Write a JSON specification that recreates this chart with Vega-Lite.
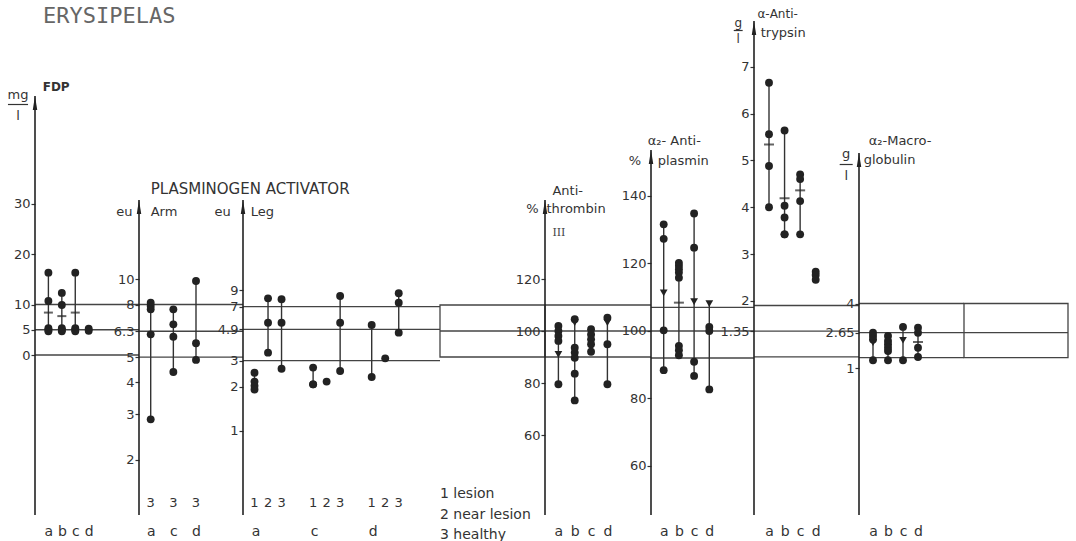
{
"$schema": "https://vega.github.io/schema/vega-lite/v6.json",
"background": "white",
"padding": {"left": 7, "top": 4, "right": 4, "bottom": 0},
"spacing": 0,
"bounds": "flush",
"datasets": {
"fdp": [
{"group":"a","value":16.3,"kind":"obs"},{"group":"a","value":10.7,"kind":"obs"},{"group":"a","value":8.4,"kind":"mean"},{"group":"a","value":5.3,"kind":"obs"},{"group":"a","value":5.0,"kind":"obs"},{"group":"a","value":4.7,"kind":"obs"},
{"group":"b","value":12.3,"kind":"obs"},{"group":"b","value":9.9,"kind":"obs"},{"group":"b","value":7.7,"kind":"mean"},{"group":"b","value":5.3,"kind":"obs"},{"group":"b","value":5.0,"kind":"obs"},{"group":"b","value":4.7,"kind":"obs"},
{"group":"c","value":16.3,"kind":"obs"},{"group":"c","value":8.4,"kind":"mean"},{"group":"c","value":5.3,"kind":"obs"},{"group":"c","value":5.0,"kind":"obs"},{"group":"c","value":4.7,"kind":"obs"},
{"group":"d","value":5.2,"kind":"obs"},{"group":"d","value":4.8,"kind":"obs"}
],
"arm": [
{"group":"a","site":"3","value":8.13},{"group":"a","site":"3","value":7.9},{"group":"a","site":"3","value":7.66},{"group":"a","site":"3","value":6.13},{"group":"a","site":"3","value":2.87},
{"group":"c","site":"3","value":7.66},{"group":"c","site":"3","value":6.7},{"group":"c","site":"3","value":6.0},{"group":"c","site":"3","value":4.38},
{"group":"d","site":"3","value":9.87},{"group":"d","site":"3","value":5.66},{"group":"d","site":"3","value":4.88}
],
"leg": [
{"group":"a","site":"1","value":2.48},{"group":"a","site":"1","value":2.16},{"group":"a","site":"1","value":2.02},{"group":"a","site":"1","value":1.91},
{"group":"a","site":"2","value":7.96},{"group":"a","site":"2","value":5.43},{"group":"a","site":"2","value":3.4},
{"group":"a","site":"3","value":7.84},{"group":"a","site":"3","value":5.43},{"group":"a","site":"3","value":2.64},
{"group":"c","site":"1","value":2.69},{"group":"c","site":"1","value":2.07},{"group":"c","site":"1","value":2.07},
{"group":"c","site":"2","value":2.16},
{"group":"c","site":"3","value":8.26},{"group":"c","site":"3","value":5.43},{"group":"c","site":"3","value":2.55},
{"group":"d","site":"1","value":5.24},{"group":"d","site":"1","value":2.32},
{"group":"d","site":"2","value":3.11},
{"group":"d","site":"3","value":8.61},{"group":"d","site":"3","value":7.43},{"group":"d","site":"3","value":4.65}
],
"at": [
{"group":"a","value":101.9,"kind":"obs"},{"group":"a","value":100,"kind":"obs"},{"group":"a","value":98.1,"kind":"obs"},{"group":"a","value":96.2,"kind":"obs"},{"group":"a","value":91.0,"kind":"marker"},{"group":"a","value":79.5,"kind":"obs"},
{"group":"b","value":104.5,"kind":"obs"},{"group":"b","value":103.2,"kind":"marker"},{"group":"b","value":93.6,"kind":"obs"},{"group":"b","value":91.7,"kind":"obs"},{"group":"b","value":89.7,"kind":"obs"},{"group":"b","value":83.6,"kind":"obs"},{"group":"b","value":73.3,"kind":"obs"},
{"group":"c","value":100.7,"kind":"obs"},{"group":"c","value":98.7,"kind":"obs"},{"group":"c","value":96.8,"kind":"obs"},{"group":"c","value":94.9,"kind":"obs"},{"group":"c","value":92.0,"kind":"obs"},
{"group":"d","value":105.1,"kind":"obs"},{"group":"d","value":103.2,"kind":"marker"},{"group":"d","value":94.9,"kind":"obs"},{"group":"d","value":79.5,"kind":"obs"}
],
"ap": [
{"group":"a","value":131.6,"kind":"obs"},{"group":"a","value":127.3,"kind":"obs"},{"group":"a","value":111.3,"kind":"marker"},{"group":"a","value":100.2,"kind":"obs"},{"group":"a","value":88.4,"kind":"obs"},
{"group":"b","value":120.2,"kind":"obs"},{"group":"b","value":119.3,"kind":"obs"},{"group":"b","value":118.3,"kind":"obs"},{"group":"b","value":117.3,"kind":"obs"},{"group":"b","value":115.8,"kind":"obs"},{"group":"b","value":108.4,"kind":"mean"},{"group":"b","value":95.6,"kind":"obs"},{"group":"b","value":94.3,"kind":"obs"},{"group":"b","value":92.8,"kind":"obs"},
{"group":"c","value":134.8,"kind":"obs"},{"group":"c","value":124.7,"kind":"obs"},{"group":"c","value":108.7,"kind":"marker"},{"group":"c","value":90.9,"kind":"obs"},{"group":"c","value":86.7,"kind":"obs"},
{"group":"d","value":108.1,"kind":"marker"},{"group":"d","value":101.2,"kind":"obs"},{"group":"d","value":100,"kind":"obs"},{"group":"d","value":82.7,"kind":"obs"}
],
"atr": [
{"group":"a","value":6.66,"kind":"obs"},{"group":"a","value":5.56,"kind":"obs"},{"group":"a","value":5.34,"kind":"mean"},{"group":"a","value":4.88,"kind":"obs"},{"group":"a","value":4.0,"kind":"obs"},
{"group":"b","value":5.64,"kind":"obs"},{"group":"b","value":4.19,"kind":"mean"},{"group":"b","value":4.03,"kind":"obs"},{"group":"b","value":3.78,"kind":"obs"},{"group":"b","value":3.42,"kind":"obs"},{"group":"b","value":3.42,"kind":"obs"},
{"group":"c","value":4.7,"kind":"obs"},{"group":"c","value":4.6,"kind":"obs"},{"group":"c","value":4.36,"kind":"mean"},{"group":"c","value":4.13,"kind":"obs"},{"group":"c","value":3.42,"kind":"obs"},
{"group":"d","value":2.62,"kind":"obs"},{"group":"d","value":2.55,"kind":"obs"},{"group":"d","value":2.45,"kind":"obs"}
],
"am": [
{"group":"a","value":2.64,"kind":"obs"},{"group":"a","value":2.49,"kind":"obs"},{"group":"a","value":2.33,"kind":"obs"},{"group":"a","value":2.18,"kind":"marker"},{"group":"a","value":1.36,"kind":"obs"},
{"group":"b","value":2.49,"kind":"obs"},{"group":"b","value":2.26,"kind":"obs"},{"group":"b","value":2.1,"kind":"obs"},{"group":"b","value":1.94,"kind":"obs"},{"group":"b","value":1.79,"kind":"obs"},{"group":"b","value":1.36,"kind":"obs"},
{"group":"c","value":2.91,"kind":"obs"},{"group":"c","value":2.29,"kind":"marker"},{"group":"c","value":1.36,"kind":"obs"},
{"group":"d","value":2.87,"kind":"obs"},{"group":"d","value":2.64,"kind":"obs"},{"group":"d","value":2.21,"kind":"mean"},{"group":"d","value":1.94,"kind":"obs"},{"group":"d","value":1.51,"kind":"obs"}
]
},
"hconcat": [
{
 "width": 104, "height": 496,
 "resolve": {"scale": {"x": "independent"}, "axis": {"x": "independent"}},
 "layer": [
  {"data": {"values": [{"limit": 10}, {"limit": 5}, {"limit": 0}]}, "mark": {"type": "rule", "color": "#444", "strokeWidth": 1.3},
   "encoding": {"x": {"datum": 0, "type": "quantitative", "scale": {"domain": [0, 1]}, "axis": null}, "x2": {"datum": 1},
    "y": {"field": "limit", "type": "quantitative", "scale": {"domain": [-31.683, 66.535], "nice": false, "zero": false}, "axis": {"title": null}}}},
  {"data": {"values": [{}]}, "mark": {"type": "rule", "color": "#222", "strokeWidth": 1.6},
   "encoding": {"x": {"datum": 0, "type": "quantitative", "scale": {"domain": [0, 1]}, "axis": null}, "y": {"datum": -31.683, "type": "quantitative", "axis": {"title": null}}, "y2": {"datum": 51.287}}},
  {"data": {"values": [{}]}, "mark": {"type": "point", "shape": "M0,-1L0.32,1L-0.32,1Z", "filled": true, "color": "#222", "size": 196, "opacity": 1},
   "encoding": {"x": {"datum": 0, "type": "quantitative", "scale": {"domain": [0, 1]}, "axis": null}, "y": {"datum": 49.901, "type": "quantitative", "axis": {"title": null}}}},
  {"data": {"values": [{}]}, "mark": {"type": "text", "text": "ERYSIPELAS", "align": "left", "baseline": "middle", "dx": 8, "font": "DejaVu Sans Mono", "fontSize": 22, "color": "#666"},
   "encoding": {"x": {"datum": 0, "type": "quantitative", "scale": {"domain": [0, 1]}, "axis": null}, "y": {"datum": 67.13, "type": "quantitative", "axis": {"title": null}}}},
  {"data": {"values": [{}]}, "mark": {"type": "text", "text": "mg", "align": "center", "baseline": "middle", "dx": -17, "fontSize": 13},
   "encoding": {"x": {"datum": 0, "type": "quantitative", "scale": {"domain": [0, 1]}, "axis": null}, "y": {"datum": 51.485, "type": "quantitative", "axis": {"title": null}}}},
  {"data": {"values": [{}]}, "mark": {"type": "rule", "color": "#333", "strokeWidth": 1.2},
   "encoding": {"x": {"datum": -0.26, "type": "quantitative", "scale": {"domain": [0, 1]}, "axis": null}, "x2": {"datum": -0.067}, "y": {"datum": 49.604, "type": "quantitative", "axis": {"title": null}}}},
  {"data": {"values": [{}]}, "mark": {"type": "text", "text": "l", "align": "center", "baseline": "middle", "dx": -17, "fontSize": 13},
   "encoding": {"x": {"datum": 0, "type": "quantitative", "scale": {"domain": [0, 1]}, "axis": null}, "y": {"datum": 47.327, "type": "quantitative", "axis": {"title": null}}}},
  {"data": {"values": [{}]}, "mark": {"type": "text", "text": "FDP", "align": "left", "baseline": "middle", "dx": 7.7, "fontSize": 12, "fontWeight": "bold"},
   "encoding": {"x": {"datum": 0, "type": "quantitative", "scale": {"domain": [0, 1]}, "axis": null}, "y": {"datum": 53.069, "type": "quantitative", "axis": {"title": null}}}},
  {"data": {"name": "fdp"}, "mark": {"type": "rule", "color": "#333", "strokeWidth": 1.4},
   "encoding": {"x": {"field": "group", "type": "nominal", "scale": {"type": "point", "domain": ["a", "b", "c", "d"], "range": [13.4, 53.7], "padding": 0}, "axis": null},
    "y": {"aggregate": "min", "field": "value", "type": "quantitative", "axis": {"title": null}}, "y2": {"aggregate": "max", "field": "value"}}},
  {"data": {"name": "fdp"}, "transform": [{"filter": "datum.kind == 'obs'"}], "mark": {"type": "circle", "size": 62, "color": "#222", "opacity": 1},
   "encoding": {"x": {"field": "group", "type": "nominal", "scale": {"type": "point", "domain": ["a", "b", "c", "d"], "range": [13.4, 53.7], "padding": 0}, "axis": {"orient": "bottom", "title": null}},
    "y": {"field": "value", "type": "quantitative", "scale": {"domain": [-31.683, 66.535], "nice": false, "zero": false}, "axis": {"orient": "left", "values": [0, 5, 10, 20, 30], "title": null, "format": ".4~g"}}}},
  {"data": {"name": "fdp"}, "transform": [{"filter": "datum.kind == 'mean'"}], "mark": {"type": "tick", "color": "#222", "thickness": 2, "size": 9},
   "encoding": {"x": {"field": "group", "type": "nominal", "scale": {"type": "point", "domain": ["a", "b", "c", "d"], "range": [13.4, 53.7], "padding": 0}, "axis": null},
    "y": {"field": "value", "type": "quantitative", "axis": {"title": null}}}}
 ]
},
{
 "width": 104, "height": 496,
 "resolve": {"scale": {"x": "independent"}, "axis": {"x": "independent"}},
 "layer": [
  {"data": {"values": [{"limit": 8}, {"limit": 6.3}, {"limit": 5}]}, "mark": {"type": "rule", "color": "#444", "strokeWidth": 1.3},
   "encoding": {"x": {"datum": 0, "type": "quantitative", "scale": {"domain": [0, 1]}, "axis": null}, "x2": {"datum": 1},
    "y": {"field": "limit", "type": "quantitative", "scale": {"type": "log", "domain": [1.2224, 102.25], "nice": false}, "axis": {"title": null}}}},
  {"data": {"values": [{}]}, "mark": {"type": "rule", "color": "#222", "strokeWidth": 1.6},
   "encoding": {"x": {"datum": 0, "type": "quantitative", "scale": {"domain": [0, 1]}, "axis": null}, "y": {"datum": 1.2224, "type": "quantitative", "axis": {"title": null}}, "y2": {"datum": 20.33}}},
  {"data": {"values": [{}]}, "mark": {"type": "point", "shape": "M0,-1L0.32,1L-0.32,1Z", "filled": true, "color": "#222", "size": 196, "opacity": 1},
   "encoding": {"x": {"datum": 0, "type": "quantitative", "scale": {"domain": [0, 1]}, "axis": null}, "y": {"datum": 19.10, "type": "quantitative", "axis": {"title": null}}}},
  {"data": {"values": [{}]}, "mark": {"type": "text", "text": "eu", "align": "right", "baseline": "middle", "dx": -6.6, "fontSize": 13},
   "encoding": {"x": {"datum": 0, "type": "quantitative", "scale": {"domain": [0, 1]}, "axis": null}, "y": {"datum": 18.27, "type": "quantitative", "axis": {"title": null}}}},
  {"data": {"values": [{}]}, "mark": {"type": "text", "text": "Arm", "align": "left", "baseline": "middle", "dx": 11.7, "fontSize": 13},
   "encoding": {"x": {"datum": 0, "type": "quantitative", "scale": {"domain": [0, 1]}, "axis": null}, "y": {"datum": 18.27, "type": "quantitative", "axis": {"title": null}}}},
  {"data": {"values": [{}]}, "mark": {"type": "text", "text": "PLASMINOGEN ACTIVATOR", "align": "left", "baseline": "middle", "dx": 11.7, "fontSize": 15},
   "encoding": {"x": {"datum": 0, "type": "quantitative", "scale": {"domain": [0, 1]}, "axis": null}, "y": {"datum": 22.43, "type": "quantitative", "axis": {"title": null}}}},
  {"data": {"name": "arm"}, "mark": {"type": "rule", "color": "#333", "strokeWidth": 1.4},
   "encoding": {"x": {"field": "group", "type": "nominal", "scale": {"type": "point", "domain": ["a", "c", "d"], "range": [11.7, 57], "padding": 0}, "axis": null},
    "y": {"aggregate": "min", "field": "value", "type": "quantitative", "axis": {"title": null}}, "y2": {"aggregate": "max", "field": "value"}}},
  {"data": {"name": "arm"}, "mark": {"type": "circle", "size": 62, "color": "#222", "opacity": 1},
   "encoding": {"x": {"field": "group", "type": "nominal", "scale": {"type": "point", "domain": ["a", "c", "d"], "range": [11.7, 57], "padding": 0}, "axis": {"orient": "bottom", "title": null}},
    "y": {"field": "value", "type": "quantitative", "scale": {"type": "log", "domain": [1.2224, 102.25], "nice": false}, "axis": {"orient": "left", "values": [2, 3, 4, 5, 6.3, 8, 10], "title": null, "format": ".4~g"}}}},
  {"data": {"name": "arm"}, "transform": [{"aggregate": [{"op": "count", "as": "n"}], "groupby": ["group", "site"]}],
   "mark": {"type": "text", "baseline": "middle", "fontSize": 13},
   "encoding": {"x": {"field": "group", "type": "nominal", "scale": {"type": "point", "domain": ["a", "c", "d"], "range": [11.7, 57], "padding": 0}, "axis": null},
    "y": {"datum": 1.3605, "type": "quantitative", "axis": {"title": null}}, "text": {"field": "site", "type": "nominal"}}}
 ]
},
{
 "width": 197, "height": 496,
 "resolve": {"scale": {"x": "independent"}, "axis": {"x": "independent"}},
 "layer": [
  {"data": {"values": [{"limit": 7}, {"limit": 4.9}, {"limit": 3}]}, "mark": {"type": "rule", "color": "#444", "strokeWidth": 1.3},
   "encoding": {"x": {"datum": 0, "type": "quantitative", "scale": {"domain": [0, 1]}, "axis": null}, "x2": {"datum": 1},
    "y": {"field": "limit", "type": "quantitative", "scale": {"type": "log", "domain": [0.26729, 632.4], "nice": false}, "axis": {"title": null}}}},
  {"data": {"values": [{}]}, "mark": {"type": "rule", "color": "#222", "strokeWidth": 1.6},
   "encoding": {"x": {"datum": 0, "type": "quantitative", "scale": {"domain": [0, 1]}, "axis": null}, "y": {"datum": 0.26729, "type": "quantitative", "axis": {"title": null}}, "y2": {"datum": 37.13}}},
  {"data": {"values": [{}]}, "mark": {"type": "point", "shape": "M0,-1L0.32,1L-0.32,1Z", "filled": true, "color": "#222", "size": 196, "opacity": 1},
   "encoding": {"x": {"datum": 0, "type": "quantitative", "scale": {"domain": [0, 1]}, "axis": null}, "y": {"datum": 33.28, "type": "quantitative", "axis": {"title": null}}}},
  {"data": {"values": [{}]}, "mark": {"type": "text", "text": "eu", "align": "right", "baseline": "middle", "dx": -12.3, "fontSize": 13},
   "encoding": {"x": {"datum": 0, "type": "quantitative", "scale": {"domain": [0, 1]}, "axis": null}, "y": {"datum": 30.77, "type": "quantitative", "axis": {"title": null}}}},
  {"data": {"values": [{}]}, "mark": {"type": "text", "text": "Leg", "align": "left", "baseline": "middle", "dx": 7.7, "fontSize": 13},
   "encoding": {"x": {"datum": 0, "type": "quantitative", "scale": {"domain": [0, 1]}, "axis": null}, "y": {"datum": 30.77, "type": "quantitative", "axis": {"title": null}}}},
  {"data": {"name": "leg"}, "mark": {"type": "rule", "color": "#333", "strokeWidth": 1.4},
   "encoding": {"x": {"field": "group", "type": "nominal", "scale": {"type": "band", "domain": ["a", "c", "d"], "paddingInner": 0.308, "paddingOuter": 0.335, "align": 0.121}, "axis": null},
    "xOffset": {"field": "site", "type": "nominal", "scale": {"type": "point", "domain": ["1", "2", "3"], "padding": 0.5}},
    "y": {"aggregate": "min", "field": "value", "type": "quantitative", "axis": {"title": null}}, "y2": {"aggregate": "max", "field": "value"}}},
  {"data": {"name": "leg"}, "mark": {"type": "circle", "size": 62, "color": "#222", "opacity": 1},
   "encoding": {"x": {"field": "group", "type": "nominal", "scale": {"type": "band", "domain": ["a", "c", "d"], "paddingInner": 0.308, "paddingOuter": 0.335, "align": 0.121}, "axis": {"orient": "bottom", "title": null, "labelOffset": -12}},
    "xOffset": {"field": "site", "type": "nominal", "scale": {"type": "point", "domain": ["1", "2", "3"], "padding": 0.5}},
    "y": {"field": "value", "type": "quantitative", "scale": {"type": "log", "domain": [0.26729, 632.4], "nice": false}, "axis": {"orient": "left", "values": [1, 2, 3, 4.9, 7, 9], "title": null, "format": ".4~g"}}}},
  {"data": {"name": "leg"}, "transform": [{"aggregate": [{"op": "count", "as": "n"}], "groupby": ["group", "site"]}],
   "mark": {"type": "text", "baseline": "middle", "fontSize": 13},
   "encoding": {"x": {"field": "group", "type": "nominal", "scale": {"type": "band", "domain": ["a", "c", "d"], "paddingInner": 0.308, "paddingOuter": 0.335, "align": 0.121}, "axis": null},
    "xOffset": {"field": "site", "type": "nominal", "scale": {"type": "point", "domain": ["1", "2", "3"], "padding": 0.5}},
    "y": {"datum": 0.32256, "type": "quantitative", "axis": {"title": null}}, "text": {"field": "site", "type": "nominal"}}}
 ]
},
{
 "width": 105, "height": 496,
 "layer": [
  {"data": {"values": [{}]}, "mark": {"type": "rect", "filled": false, "color": "#444", "strokeWidth": 1.3},
   "encoding": {"x": {"datum": 0, "type": "quantitative", "scale": {"domain": [0, 1]}, "axis": null}, "x2": {"datum": 1},
    "y": {"datum": 110, "type": "quantitative", "scale": {"domain": [29.231, 220], "nice": false, "zero": false}, "axis": null}, "y2": {"datum": 90}}},
  {"data": {"values": [{}]}, "mark": {"type": "rule", "color": "#444", "strokeWidth": 1.3},
   "encoding": {"x": {"datum": 0, "type": "quantitative", "axis": null}, "x2": {"datum": 1}, "y": {"datum": 100, "type": "quantitative", "axis": null}}},
  {"data": {"values": [{}]}, "mark": {"type": "text", "text": ["1 lesion", "2 near lesion", "3 healthy"], "align": "left", "baseline": "top", "lineHeight": 20.5, "fontSize": 14},
   "encoding": {"x": {"datum": 0, "type": "quantitative", "axis": null}, "y": {"datum": 40.0, "type": "quantitative", "axis": null}}}
 ]
},
{
 "width": 106, "height": 496,
 "resolve": {"scale": {"x": "independent"}, "axis": {"x": "independent"}},
 "layer": [
  {"data": {"values": [{"limit": 110}, {"limit": 100}, {"limit": 90}]}, "mark": {"type": "rule", "color": "#444", "strokeWidth": 1.3},
   "encoding": {"x": {"datum": 0, "type": "quantitative", "scale": {"domain": [0, 1]}, "axis": null}, "x2": {"datum": 1},
    "y": {"field": "limit", "type": "quantitative", "scale": {"domain": [29.231, 220], "nice": false, "zero": false}, "axis": {"title": null}}}},
  {"data": {"values": [{}]}, "mark": {"type": "rule", "color": "#222", "strokeWidth": 1.6},
   "encoding": {"x": {"datum": 0, "type": "quantitative", "scale": {"domain": [0, 1]}, "axis": null}, "y": {"datum": 29.231, "type": "quantitative", "axis": {"title": null}}, "y2": {"datum": 150.38}}},
  {"data": {"values": [{}]}, "mark": {"type": "point", "shape": "M0,-1L0.32,1L-0.32,1Z", "filled": true, "color": "#222", "size": 196, "opacity": 1},
   "encoding": {"x": {"datum": 0, "type": "quantitative", "scale": {"domain": [0, 1]}, "axis": null}, "y": {"datum": 147.69, "type": "quantitative", "axis": {"title": null}}}},
  {"data": {"values": [{}]}, "mark": {"type": "text", "text": "%", "align": "right", "baseline": "middle", "dx": -6.3, "fontSize": 13},
   "encoding": {"x": {"datum": 0, "type": "quantitative", "scale": {"domain": [0, 1]}, "axis": null}, "y": {"datum": 146.81, "type": "quantitative", "axis": {"title": null}}}},
  {"data": {"values": [{}]}, "mark": {"type": "text", "text": "Anti-", "align": "left", "baseline": "middle", "dx": 7.4, "fontSize": 13},
   "encoding": {"x": {"datum": 0, "type": "quantitative", "scale": {"domain": [0, 1]}, "axis": null}, "y": {"datum": 153.85, "type": "quantitative", "axis": {"title": null}}}},
  {"data": {"values": [{}]}, "mark": {"type": "text", "text": "thrombin", "align": "left", "baseline": "middle", "dx": 1.5, "fontSize": 13},
   "encoding": {"x": {"datum": 0, "type": "quantitative", "scale": {"domain": [0, 1]}, "axis": null}, "y": {"datum": 147.04, "type": "quantitative", "axis": {"title": null}}}},
  {"data": {"values": [{}]}, "mark": {"type": "text", "text": "III", "align": "left", "baseline": "middle", "dx": 7.4, "font": "DejaVu Serif", "fontSize": 11, "color": "#444"},
   "encoding": {"x": {"datum": 0, "type": "quantitative", "scale": {"domain": [0, 1]}, "axis": null}, "y": {"datum": 137.81, "type": "quantitative", "axis": {"title": null}}}},
  {"data": {"name": "at"}, "mark": {"type": "rule", "color": "#333", "strokeWidth": 1.4},
   "encoding": {"x": {"field": "group", "type": "nominal", "scale": {"type": "point", "domain": ["a", "b", "c", "d"], "range": [13.4, 62.4], "padding": 0}, "axis": null},
    "y": {"aggregate": "min", "field": "value", "type": "quantitative", "axis": {"title": null}}, "y2": {"aggregate": "max", "field": "value"}}},
  {"data": {"name": "at"}, "transform": [{"filter": "datum.kind == 'obs'"}], "mark": {"type": "circle", "size": 62, "color": "#222", "opacity": 1},
   "encoding": {"x": {"field": "group", "type": "nominal", "scale": {"type": "point", "domain": ["a", "b", "c", "d"], "range": [13.4, 62.4], "padding": 0}, "axis": {"orient": "bottom", "title": null}},
    "y": {"field": "value", "type": "quantitative", "scale": {"domain": [29.231, 220], "nice": false, "zero": false}, "axis": {"orient": "left", "values": [60, 80, 100, 120], "title": null, "format": ".4~g"}}}},
  {"data": {"name": "at"}, "transform": [{"filter": "datum.kind == 'marker'"}], "mark": {"type": "point", "shape": "triangle-down", "filled": true, "size": 60, "color": "#222", "opacity": 1},
   "encoding": {"x": {"field": "group", "type": "nominal", "scale": {"type": "point", "domain": ["a", "b", "c", "d"], "range": [13.4, 62.4], "padding": 0}, "axis": null},
    "y": {"field": "value", "type": "quantitative", "axis": {"title": null}}}}
 ]
},
{
 "width": 103, "height": 496,
 "resolve": {"scale": {"x": "independent"}, "axis": {"x": "independent"}},
 "layer": [
  {"data": {"values": [{"limit": 107}, {"limit": 100}, {"limit": 92}]}, "mark": {"type": "rule", "color": "#444", "strokeWidth": 1.3},
   "encoding": {"x": {"datum": 0, "type": "quantitative", "scale": {"domain": [0, 1]}, "axis": null}, "x2": {"datum": 1},
    "y": {"field": "limit", "type": "quantitative", "scale": {"domain": [45.481, 192.444], "nice": false, "zero": false}, "axis": {"title": null}}}},
  {"data": {"values": [{}]}, "mark": {"type": "rule", "color": "#222", "strokeWidth": 1.6},
   "encoding": {"x": {"datum": 0, "type": "quantitative", "scale": {"domain": [0, 1]}, "axis": null}, "y": {"datum": 45.481, "type": "quantitative", "axis": {"title": null}}, "y2": {"datum": 153.63}}},
  {"data": {"values": [{}]}, "mark": {"type": "point", "shape": "M0,-1L0.32,1L-0.32,1Z", "filled": true, "color": "#222", "size": 196, "opacity": 1},
   "encoding": {"x": {"datum": 0, "type": "quantitative", "scale": {"domain": [0, 1]}, "axis": null}, "y": {"datum": 151.56, "type": "quantitative", "axis": {"title": null}}}},
  {"data": {"values": [{}]}, "mark": {"type": "text", "text": "α₂- Anti-", "align": "left", "baseline": "middle", "dx": -3.3, "fontSize": 13},
   "encoding": {"x": {"datum": 0, "type": "quantitative", "scale": {"domain": [0, 1]}, "axis": null}, "y": {"datum": 156.3, "type": "quantitative", "axis": {"title": null}}}},
  {"data": {"values": [{}]}, "mark": {"type": "text", "text": "%", "align": "right", "baseline": "middle", "dx": -10, "fontSize": 13},
   "encoding": {"x": {"datum": 0, "type": "quantitative", "scale": {"domain": [0, 1]}, "axis": null}, "y": {"datum": 150.37, "type": "quantitative", "axis": {"title": null}}}},
  {"data": {"values": [{}]}, "mark": {"type": "text", "text": "plasmin", "align": "left", "baseline": "middle", "dx": 6.7, "fontSize": 13},
   "encoding": {"x": {"datum": 0, "type": "quantitative", "scale": {"domain": [0, 1]}, "axis": null}, "y": {"datum": 150.37, "type": "quantitative", "axis": {"title": null}}}},
  {"data": {"name": "ap"}, "mark": {"type": "rule", "color": "#333", "strokeWidth": 1.4},
   "encoding": {"x": {"field": "group", "type": "nominal", "scale": {"type": "point", "domain": ["a", "b", "c", "d"], "range": [12.7, 58.3], "padding": 0}, "axis": null},
    "y": {"aggregate": "min", "field": "value", "type": "quantitative", "axis": {"title": null}}, "y2": {"aggregate": "max", "field": "value"}}},
  {"data": {"name": "ap"}, "transform": [{"filter": "datum.kind == 'obs'"}], "mark": {"type": "circle", "size": 62, "color": "#222", "opacity": 1},
   "encoding": {"x": {"field": "group", "type": "nominal", "scale": {"type": "point", "domain": ["a", "b", "c", "d"], "range": [12.7, 58.3], "padding": 0}, "axis": {"orient": "bottom", "title": null}},
    "y": {"field": "value", "type": "quantitative", "scale": {"domain": [45.481, 192.444], "nice": false, "zero": false}, "axis": {"orient": "left", "values": [60, 80, 100, 120, 140], "title": null, "format": ".4~g"}}}},
  {"data": {"name": "ap"}, "transform": [{"filter": "datum.kind == 'mean'"}], "mark": {"type": "tick", "color": "#222", "thickness": 2, "size": 10},
   "encoding": {"x": {"field": "group", "type": "nominal", "scale": {"type": "point", "domain": ["a", "b", "c", "d"], "range": [12.7, 58.3], "padding": 0}, "axis": null},
    "y": {"field": "value", "type": "quantitative", "axis": {"title": null}}}},
  {"data": {"name": "ap"}, "transform": [{"filter": "datum.kind == 'marker'"}], "mark": {"type": "point", "shape": "triangle-down", "filled": true, "size": 60, "color": "#222", "opacity": 1},
   "encoding": {"x": {"field": "group", "type": "nominal", "scale": {"type": "point", "domain": ["a", "b", "c", "d"], "range": [12.7, 58.3], "padding": 0}, "axis": null},
    "y": {"field": "value", "type": "quantitative", "axis": {"title": null}}}}
 ]
},
{
 "width": 105, "height": 496,
 "resolve": {"scale": {"x": "independent"}, "axis": {"x": "independent"}},
 "layer": [
  {"data": {"values": [{"limit": 1.9}, {"limit": 1.35}, {"limit": 0.8}]}, "mark": {"type": "rule", "color": "#444", "strokeWidth": 1.3},
   "encoding": {"x": {"datum": 0, "type": "quantitative", "scale": {"domain": [0, 1]}, "axis": null}, "x2": {"datum": 1},
    "y": {"field": "limit", "type": "quantitative", "scale": {"domain": [-2.5769, 8.0214], "nice": false, "zero": false}, "axis": {"title": null}}}},
  {"data": {"values": [{}]}, "mark": {"type": "rule", "color": "#222", "strokeWidth": 1.6},
   "encoding": {"x": {"datum": 0, "type": "quantitative", "scale": {"domain": [0, 1]}, "axis": null}, "y": {"datum": -2.5769, "type": "quantitative", "axis": {"title": null}}, "y2": {"datum": 7.9786}}},
  {"data": {"values": [{}]}, "mark": {"type": "point", "shape": "M0,-1L0.32,1L-0.32,1Z", "filled": true, "color": "#222", "size": 196, "opacity": 1},
   "encoding": {"x": {"datum": 0, "type": "quantitative", "scale": {"domain": [0, 1]}, "axis": null}, "y": {"datum": 7.8291, "type": "quantitative", "axis": {"title": null}}}},
  {"data": {"values": [{}]}, "mark": {"type": "text", "text": "g", "align": "center", "baseline": "middle", "dx": -15.8, "fontSize": 12},
   "encoding": {"x": {"datum": 0, "type": "quantitative", "scale": {"domain": [0, 1]}, "axis": null}, "y": {"datum": 7.9423, "type": "quantitative", "axis": {"title": null}}}},
  {"data": {"values": [{}]}, "mark": {"type": "rule", "color": "#333", "strokeWidth": 1.2},
   "encoding": {"x": {"datum": -0.193, "type": "quantitative", "scale": {"domain": [0, 1]}, "axis": null}, "x2": {"datum": -0.108}, "y": {"datum": 7.7756, "type": "quantitative", "axis": {"title": null}}}},
  {"data": {"values": [{}]}, "mark": {"type": "text", "text": "l", "align": "center", "baseline": "middle", "dx": -15.8, "fontSize": 12},
   "encoding": {"x": {"datum": 0, "type": "quantitative", "scale": {"domain": [0, 1]}, "axis": null}, "y": {"datum": 7.5876, "type": "quantitative", "axis": {"title": null}}}},
  {"data": {"values": [{}]}, "mark": {"type": "text", "text": "α-Anti-", "align": "left", "baseline": "middle", "dx": 3.4, "fontSize": 12},
   "encoding": {"x": {"datum": 0, "type": "quantitative", "scale": {"domain": [0, 1]}, "axis": null}, "y": {"datum": 8.1218, "type": "quantitative", "axis": {"title": null}}}},
  {"data": {"values": [{}]}, "mark": {"type": "text", "text": "trypsin", "align": "left", "baseline": "middle", "dx": 6.7, "fontSize": 13},
   "encoding": {"x": {"datum": 0, "type": "quantitative", "scale": {"domain": [0, 1]}, "axis": null}, "y": {"datum": 7.7286, "type": "quantitative", "axis": {"title": null}}}},
  {"data": {"name": "atr"}, "mark": {"type": "rule", "color": "#333", "strokeWidth": 1.4},
   "encoding": {"x": {"field": "group", "type": "nominal", "scale": {"type": "point", "domain": ["a", "b", "c", "d"], "range": [15, 61.7], "padding": 0}, "axis": null},
    "y": {"aggregate": "min", "field": "value", "type": "quantitative", "axis": {"title": null}}, "y2": {"aggregate": "max", "field": "value"}}},
  {"data": {"name": "atr"}, "transform": [{"filter": "datum.kind == 'obs'"}], "mark": {"type": "circle", "size": 62, "color": "#222", "opacity": 1},
   "encoding": {"x": {"field": "group", "type": "nominal", "scale": {"type": "point", "domain": ["a", "b", "c", "d"], "range": [15, 61.7], "padding": 0}, "axis": {"orient": "bottom", "title": null}},
    "y": {"field": "value", "type": "quantitative", "scale": {"domain": [-2.5769, 8.0214], "nice": false, "zero": false}, "axis": {"orient": "left", "values": [1.35, 2, 3, 4, 5, 6, 7], "title": null, "format": ".4~g"}}}},
  {"data": {"name": "atr"}, "transform": [{"filter": "datum.kind == 'mean'"}], "mark": {"type": "tick", "color": "#222", "thickness": 2, "size": 10},
   "encoding": {"x": {"field": "group", "type": "nominal", "scale": {"type": "point", "domain": ["a", "b", "c", "d"], "range": [15, 61.7], "padding": 0}, "axis": null},
    "y": {"field": "value", "type": "quantitative", "axis": {"title": null}}}}
 ]
},
{
 "width": 105, "height": 496,
 "resolve": {"scale": {"x": "independent"}, "axis": {"x": "independent"}},
 "layer": [
  {"data": {"values": [{"limit": 4}, {"limit": 2.65}, {"limit": 1.48}]}, "mark": {"type": "rule", "color": "#444", "strokeWidth": 1.3},
   "encoding": {"x": {"datum": 0, "type": "quantitative", "scale": {"domain": [0, 1]}, "axis": null}, "x2": {"datum": 1},
    "y": {"field": "limit", "type": "quantitative", "scale": {"domain": [-5.8372, 17.2326], "nice": false, "zero": false}, "axis": {"title": null}}}},
  {"data": {"values": [{}]}, "mark": {"type": "rule", "color": "#222", "strokeWidth": 1.6},
   "encoding": {"x": {"datum": 0, "type": "quantitative", "scale": {"domain": [0, 1]}, "axis": null}, "y": {"datum": -5.8372, "type": "quantitative", "axis": {"title": null}}, "y2": {"datum": 11.0}}},
  {"data": {"values": [{}]}, "mark": {"type": "point", "shape": "M0,-1L0.32,1L-0.32,1Z", "filled": true, "color": "#222", "size": 196, "opacity": 1},
   "encoding": {"x": {"datum": 0, "type": "quantitative", "scale": {"domain": [0, 1]}, "axis": null}, "y": {"datum": 10.674, "type": "quantitative", "axis": {"title": null}}}},
  {"data": {"values": [{}]}, "mark": {"type": "text", "text": "g", "align": "center", "baseline": "middle", "dx": -12.8, "fontSize": 13},
   "encoding": {"x": {"datum": 0, "type": "quantitative", "scale": {"domain": [0, 1]}, "axis": null}, "y": {"datum": 10.953, "type": "quantitative", "axis": {"title": null}}}},
  {"data": {"values": [{}]}, "mark": {"type": "rule", "color": "#333", "strokeWidth": 1.2},
   "encoding": {"x": {"datum": -0.184, "type": "quantitative", "scale": {"domain": [0, 1]}, "axis": null}, "x2": {"datum": -0.06}, "y": {"datum": 10.465, "type": "quantitative", "axis": {"title": null}}}},
  {"data": {"values": [{}]}, "mark": {"type": "text", "text": "l", "align": "center", "baseline": "middle", "dx": -12.8, "fontSize": 13},
   "encoding": {"x": {"datum": 0, "type": "quantitative", "scale": {"domain": [0, 1]}, "axis": null}, "y": {"datum": 9.93, "type": "quantitative", "axis": {"title": null}}}},
  {"data": {"values": [{}]}, "mark": {"type": "text", "text": "α₂-Macro-", "align": "left", "baseline": "middle", "dx": 9.7, "fontSize": 13},
   "encoding": {"x": {"datum": 0, "type": "quantitative", "scale": {"domain": [0, 1]}, "axis": null}, "y": {"datum": 11.558, "type": "quantitative", "axis": {"title": null}}}},
  {"data": {"values": [{}]}, "mark": {"type": "text", "text": "globulin", "align": "left", "baseline": "middle", "dx": 4.7, "fontSize": 13},
   "encoding": {"x": {"datum": 0, "type": "quantitative", "scale": {"domain": [0, 1]}, "axis": null}, "y": {"datum": 10.674, "type": "quantitative", "axis": {"title": null}}}},
  {"data": {"name": "am"}, "mark": {"type": "rule", "color": "#333", "strokeWidth": 1.4},
   "encoding": {"x": {"field": "group", "type": "nominal", "scale": {"type": "point", "domain": ["a", "b", "c", "d"], "range": [14, 59], "padding": 0}, "axis": null},
    "y": {"aggregate": "min", "field": "value", "type": "quantitative", "axis": {"title": null}}, "y2": {"aggregate": "max", "field": "value"}}},
  {"data": {"name": "am"}, "transform": [{"filter": "datum.kind == 'obs'"}], "mark": {"type": "circle", "size": 62, "color": "#222", "opacity": 1},
   "encoding": {"x": {"field": "group", "type": "nominal", "scale": {"type": "point", "domain": ["a", "b", "c", "d"], "range": [14, 59], "padding": 0}, "axis": {"orient": "bottom", "title": null}},
    "y": {"field": "value", "type": "quantitative", "scale": {"domain": [-5.8372, 17.2326], "nice": false, "zero": false}, "axis": {"orient": "left", "values": [1, 2.65, 4], "title": null, "format": ".4~g"}}}},
  {"data": {"name": "am"}, "transform": [{"filter": "datum.kind == 'mean'"}], "mark": {"type": "tick", "color": "#222", "thickness": 2, "size": 10},
   "encoding": {"x": {"field": "group", "type": "nominal", "scale": {"type": "point", "domain": ["a", "b", "c", "d"], "range": [14, 59], "padding": 0}, "axis": null},
    "y": {"field": "value", "type": "quantitative", "axis": {"title": null}}}},
  {"data": {"name": "am"}, "transform": [{"filter": "datum.kind == 'marker'"}], "mark": {"type": "point", "shape": "triangle-down", "filled": true, "size": 60, "color": "#222", "opacity": 1},
   "encoding": {"x": {"field": "group", "type": "nominal", "scale": {"type": "point", "domain": ["a", "b", "c", "d"], "range": [14, 59], "padding": 0}, "axis": null},
    "y": {"field": "value", "type": "quantitative", "axis": {"title": null}}}}
 ]
},
{
 "width": 104, "height": 496,
 "layer": [
  {"data": {"values": [{}]}, "mark": {"type": "rect", "filled": false, "color": "#444", "strokeWidth": 1.3},
   "encoding": {"x": {"datum": 0, "type": "quantitative", "scale": {"domain": [0, 1]}, "axis": null}, "x2": {"datum": 1},
    "y": {"datum": 4, "type": "quantitative", "scale": {"domain": [-5.8372, 17.2326], "nice": false, "zero": false}, "axis": null}, "y2": {"datum": 1.48}}},
  {"data": {"values": [{}]}, "mark": {"type": "rule", "color": "#444", "strokeWidth": 1.3},
   "encoding": {"x": {"datum": 0, "type": "quantitative", "axis": null}, "x2": {"datum": 1}, "y": {"datum": 2.65, "type": "quantitative", "axis": null}}}
 ]
}
],
"config": {
 "font": "DejaVu Sans",
 "view": {"stroke": null},
 "axis": {"grid": false, "domain": false, "labelFontSize": 13, "labelColor": "#333", "tickColor": "#333", "labelFont": "DejaVu Sans", "labelOverlap": false},
 "axisY": {"tickSize": 4, "labelPadding": 1, "tickWidth": 1.2},
 "axisX": {"ticks": false, "labelPadding": 9, "labelAngle": 0, "labelFontSize": 14, "title": null},
 "text": {"color": "#333", "fontSize": 13}
}
}
